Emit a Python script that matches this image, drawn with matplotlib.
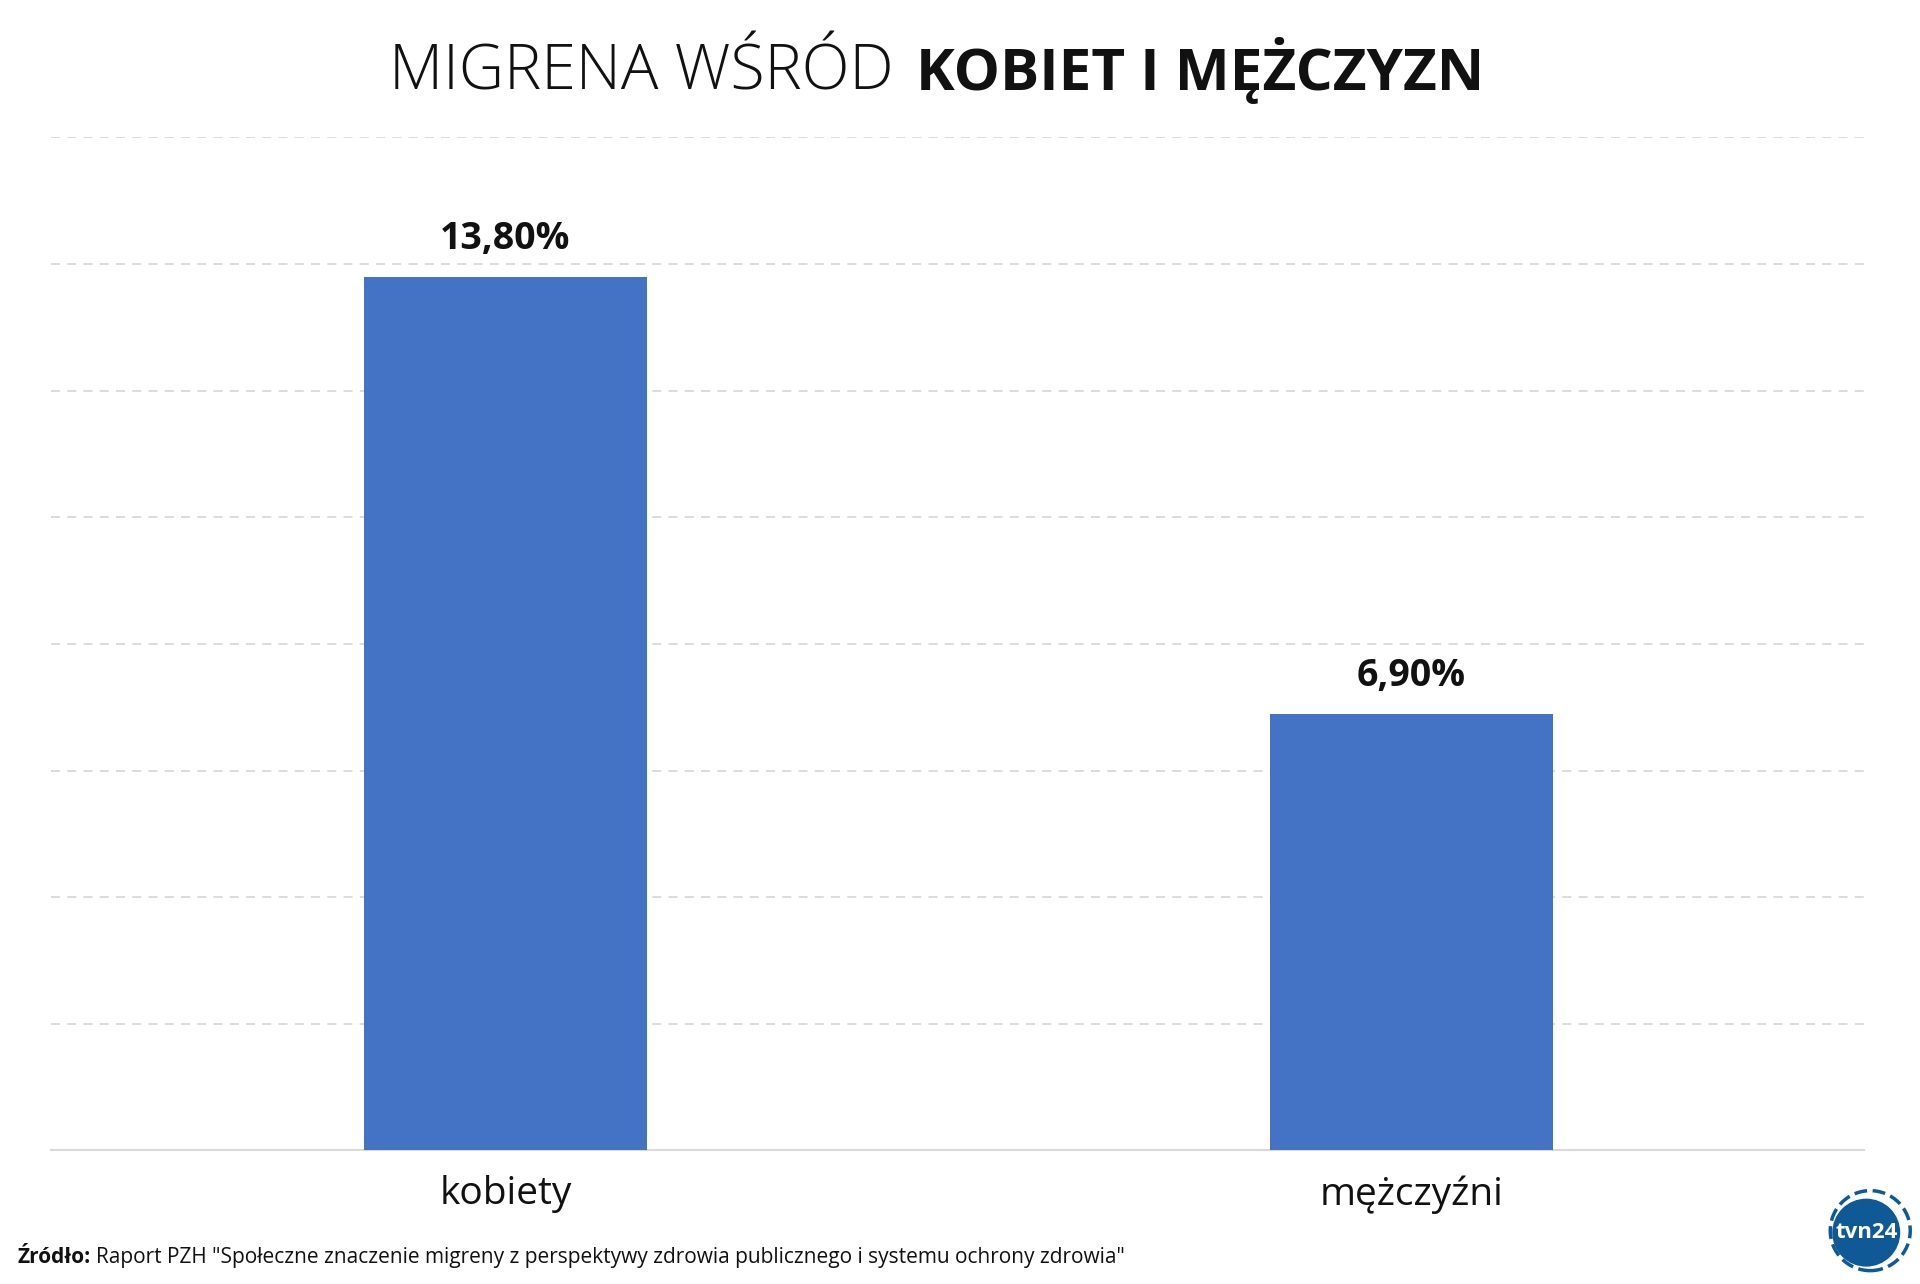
import matplotlib.pyplot as plt
from matplotlib.patches import Circle

categories = ['kobiety', 'mężczyźni']
values = [13.8, 6.9]
labels = ['13,80%', '6,90%']

plt.rcParams['font.family'] = ['Open Sans', 'DejaVu Sans']

fig = plt.figure(figsize=(19.2, 12.84), dpi=100)
ax = fig.add_axes([0.0268, 0.104, 0.9439, 0.789])

ax.bar(range(len(values)), values, width=0.313, color='#4472c4', zorder=3)
for i, (v, lab) in enumerate(zip(values, labels)):
    ax.text(i, v + 0.3, lab, ha='center', va='bottom', fontsize=27, fontweight='bold', color='#111111')

ax.set_xlim(-0.501, 1.499)
ax.set_ylim(0, 16)
ax.set_yticks(range(2, 17, 2))
ax.grid(axis='y', color='#d9d9d9', linestyle=(0, (5, 4)), linewidth=1.3, zorder=0)
ax.tick_params(axis='y', length=0, labelleft=False)
ax.set_xticks(range(len(categories)))
ax.set_xticklabels(categories, fontsize=28, color='#111111')
ax.tick_params(axis='x', length=0, pad=18)
for s in ['top', 'left', 'right']:
    ax.spines[s].set_visible(False)
ax.spines['bottom'].set_color('#d9d9d9')
ax.spines['bottom'].set_linewidth(1.5)

fig.text(0.4656, 0.930, 'MIGRENA WŚRÓD', ha='right', va='baseline', fontsize=45, fontweight='light', color='#111111')
fig.text(0.477, 0.930, 'KOBIET I MĘŻCZYZN', ha='left', va='baseline', fontsize=42, fontweight='bold', color='#111111')

fig.text(0.009, 0.016, 'Źródło:', ha='left', va='baseline', fontsize=15, fontweight='bold', color='#111111')
fig.text(0.050, 0.016, 'Raport PZH "Społeczne znaczenie migreny z perspektywy zdrowia publicznego i systemu ochrony zdrowia"',
         ha='left', va='baseline', fontsize=15, color='#111111')

# logo
lx, ly = 0.972, 0.040
fig.patches.append(Circle((lx * 1920, ly * 1284), 34, transform=None, facecolor='#0f5a96', edgecolor='none'))
fig.patches.append(Circle((lx * 1920 + 4, ly * 1284 + 2), 40, transform=None, facecolor='none',
                          edgecolor='#0f5a96', linestyle='--', linewidth=2.5))
fig.text(lx, ly, 'tvn24', ha='center', va='center', fontsize=16, fontweight='bold', color='white')

fig.savefig('out.png', dpi=100)
